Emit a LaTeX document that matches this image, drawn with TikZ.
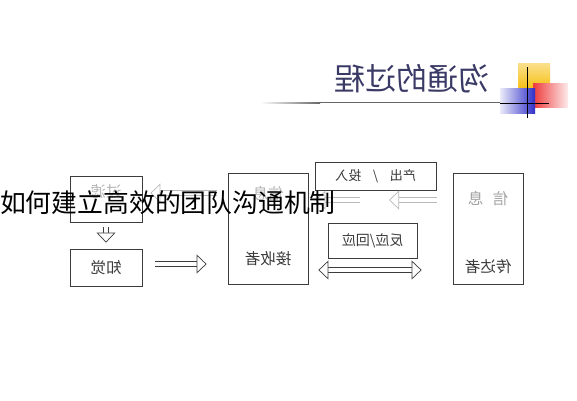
\documentclass[tikz,border=0pt]{standalone}
\usepackage{fontspec}
\usepackage{xcolor}
\usepackage{tikz}
\usetikzlibrary{arrows.meta, positioning}
\newfontfamily\cjk{Noto Sans CJK SC}

\definecolor{boxline}{HTML}{3C3C3C}
\definecolor{boxtext}{HTML}{3A3A3A}
\definecolor{fainttext}{HTML}{B4B4B4}
\definecolor{titleblue}{HTML}{3A3A66}
\definecolor{logoyellow}{HTML}{F7C21B}
\definecolor{logored}{HTML}{EE3B3B}
\definecolor{logoblue}{HTML}{2F2FC8}

\tikzset{
  box/.style={draw=boxline, line width=0.8pt, inner sep=0pt},
  flip/.style={xscale=-1},
  txt/.style={font=\cjk\fontsize{15.5}{15.5}\selectfont, text=boxtext, inner sep=0pt},
  faint/.style={txt, text=fainttext},
  headtip/.tip={Triangle[open, length=10pt, width=19pt, line width=0.7pt, fill=white]},
  hollow/.style={draw=boxline, double=white, double distance=4.5pt, line width=0.7pt, -headtip},
  lighthollow/.style={hollow, draw=gray!55},
}

\begin{document}
\begin{tikzpicture}[x=1pt, y=-1pt]
  \useasboundingbox (0,0) rectangle (577,400);

  % title and logo
  \shade[left color=white, right color=gray!80!black] (260,102.2) rectangle (320,103.4);
  \fill[gray!80!black] (320,102.2) rectangle (548,103.4);
  \node[flip, font=\cjk\fontsize{31}{31}\selectfont, text=titleblue, inner sep=0pt] (title) at (412,79) {沟通的过程};
  \shade[top color=logoyellow!50, bottom color=logoyellow] (518,63) rectangle (550,87);
  \shade[left color=logored, right color=logored!10] (533,83) rectangle (568,107);
  \shade[left color=logoblue!10, right color=logoblue] (500,88) rectangle (535,113);
  \draw[line width=0.9pt] (527,67) -- (527,118);
  \draw[line width=0.9pt] (500,103) -- (549,103);

  % boxes
  \node[box, minimum width=72pt, minimum height=46pt] (filter) at (106,199) {};
  \node[box, minimum width=72pt, minimum height=37pt] (percept) at (106,267.5) {};
  \node[box, minimum width=80pt, minimum height=111pt] (recv) at (268,228.5) {};
  \node[box, minimum width=70pt, minimum height=111pt] (sender) at (488,228.5) {};
  \node[box, minimum width=121pt, minimum height=28pt] (output) at (375.5,176) {};
  \node[box, minimum width=89pt, minimum height=35pt] (feedback) at (372.5,240.5) {};

  % texts (mirrored as printed)
  \node[faint, flip] (filtertxt) at (106,192) {过滤};
  \node[txt, flip] (percepttxt) at (106,267.5) {知觉};
  \node[faint, flip] (recvmsg) at (268,194) {信息};
  \node[txt, flip] (recvtxt) at (268,259) {接收者};
  \node[faint, flip, text=gray!75] (sendmsg) at (488,199) {信\hspace{0.6em}息};
  \node[txt, flip] (sendtxt) at (488,267) {传达者};
  \node[txt, flip, font=\cjk\fontsize{13}{13}\selectfont] (outtxt) at (375.5,176) {产出\hspace{0.9em}/\hspace{0.9em}投入};
  \node[txt, flip, font=\cjk\fontsize{14}{14}\selectfont] (fbtxt) at (372.5,240.5) {反应/回应};

  % connectors
  \coordinate (midR) at (389,200);
  \coordinate (midL) at (360,200);
  \draw[hollow, shorten <=5pt, shorten >=6pt] (filter) -- (percept);
  \draw[hollow, shorten <=13pt, shorten >=21pt] ([yshift=3.5pt]percept.east) -- ([yshift=3.5pt]percept.east -| recv.west);
  \draw[lighthollow, shorten <=11pt, shorten >=8pt] (recv.west |- 0,193) -- (filter.east |- 0,193);
  \draw[lighthollow, shorten <=16pt] (sender.west |- midR) -- (midR);
  \draw[lighthollow, shorten >=7pt] (midL) -- (recv.east |- midL);
  \draw[hollow, headtip-headtip, shorten <=10pt, shorten >=31pt] (recv.east |- 0,270) -- (sender.west |- 0,270);

  % overlay caption
  \node[anchor=west, inner sep=0pt, font=\cjk\fontsize{25.8}{26}\selectfont] (caption) at (0,203) {如何建立高效的团队沟通机制};
\end{tikzpicture}
\end{document}
